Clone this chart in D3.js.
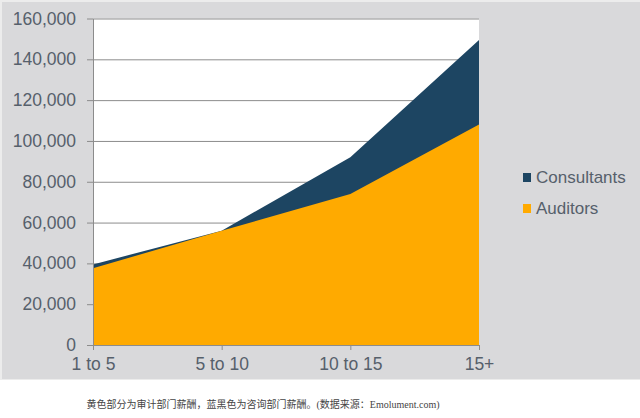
<!DOCTYPE html>
<html>
<head>
<meta charset="utf-8">
<script src="https://cdn.jsdelivr.net/npm/d3@7"></script>
<style>
  body { margin: 0; background: #fff; }
  svg text { font-family: "Liberation Sans", Arial, sans-serif; }
</style>
</head>
<body>
<svg id="chart" width="640" height="418"></svg>
<script>
// data
var categories = ["1 to 5", "5 to 10", "10 to 15", "15+"];
var auditors = [37600, 56000, 74000, 108000];
var consultants = [39500, 56000, 92000, 149500];
var yTicks = [0, 20000, 40000, 60000, 80000, 100000, 120000, 140000, 160000];
var seriesNames = ["Consultants", "Auditors"];
var seriesColors = ["#1d4562", "#ffaa00"];
var caption = "黄色部分为审计部门薪酬，蓝黑色为咨询部门薪酬。(数据来源：Emolument.com)";

var svg = d3.select("#chart");
var textColor = "#56606b";

// grey panel behind the chart
svg.append("rect")
  .attr("x", 0).attr("y", 0).attr("width", 640).attr("height", 380)
  .attr("fill", "#ececec");
svg.append("rect")
  .attr("x", 2).attr("y", 2).attr("width", 638).attr("height", 377)
  .attr("fill", "#d9d9db");

var plotLeft = 93, plotRight = 479, plotTop = 18.5, plotBottom = 345;

var x = d3.scalePoint().domain(categories).range([plotLeft, plotRight]);
var y = d3.scaleLinear().domain([0, 160000]).range([plotBottom, plotTop]);

// plot area
svg.append("rect")
  .attr("x", plotLeft).attr("y", plotTop)
  .attr("width", plotRight - plotLeft).attr("height", plotBottom - plotTop)
  .attr("fill", "#fff");

// gridlines
var grid = svg.append("g")
  .attr("transform", "translate(" + plotLeft + ",0)")
  .call(d3.axisLeft(y).tickValues(yTicks).tickSize(-(plotRight - plotLeft)).tickFormat(""));
grid.select(".domain").remove();
grid.selectAll("line").attr("stroke", "#8c8c8c").attr("stroke-width", 1);

// areas: consultants behind, auditors in front
var rows = categories.map(function(c, i){
  return {cat: c, aud: auditors[i], con: consultants[i]};
});

var areaCon = d3.area()
  .x(function(d){ return x(d.cat); })
  .y0(y(0))
  .y1(function(d){ return y(d.con); });
var areaAud = d3.area()
  .x(function(d){ return x(d.cat); })
  .y0(y(0))
  .y1(function(d){ return y(d.aud); });

svg.append("path").datum(rows).attr("d", areaCon).attr("fill", seriesColors[0]);
svg.append("path").datum(rows).attr("d", areaAud).attr("fill", seriesColors[1]);

// y axis
var yAxis = svg.append("g")
  .attr("transform", "translate(" + plotLeft + ",0)")
  .call(d3.axisLeft(y).tickValues(yTicks).tickSize(6).tickSizeOuter(0).tickPadding(11)
    .tickFormat(d3.format(",")));
yAxis.select(".domain").attr("stroke", "#8c8c8c");
yAxis.selectAll("line").attr("stroke", "#8c8c8c");
yAxis.selectAll("text")
  .attr("fill", textColor)
  .style("font-size", "17.5px");

// x axis
var xAxis = svg.append("g")
  .attr("transform", "translate(0," + plotBottom + ")")
  .call(d3.axisBottom(x).tickSize(5).tickSizeOuter(0).tickPadding(8));
xAxis.select(".domain").attr("stroke", "#8c8c8c");
xAxis.selectAll("line").attr("stroke", "#8c8c8c");
xAxis.selectAll("text")
  .attr("fill", textColor)
  .style("font-size", "17.5px");

// legend
var legend = svg.append("g").attr("transform", "translate(523,172)");
seriesNames.forEach(function(name, i){
  var g = legend.append("g").attr("transform", "translate(0," + (i * 31) + ")");
  g.append("rect").attr("x", 0).attr("y", 1).attr("width", 8).attr("height", 9)
    .attr("fill", seriesColors[i]);
  g.append("text").attr("x", 13).attr("y", 11)
    .attr("fill", textColor)
    .style("font-size", "17px")
    .text(name);
});

// caption under the chart
svg.append("text")
  .attr("x", 263).attr("y", 408)
  .attr("text-anchor", "middle")
  .attr("fill", "#444")
  .style("font-family", "'Liberation Serif', 'Noto Sans CJK SC', serif")
  .style("font-size", "10px")
  .text(caption);
</script>
</body>
</html>
